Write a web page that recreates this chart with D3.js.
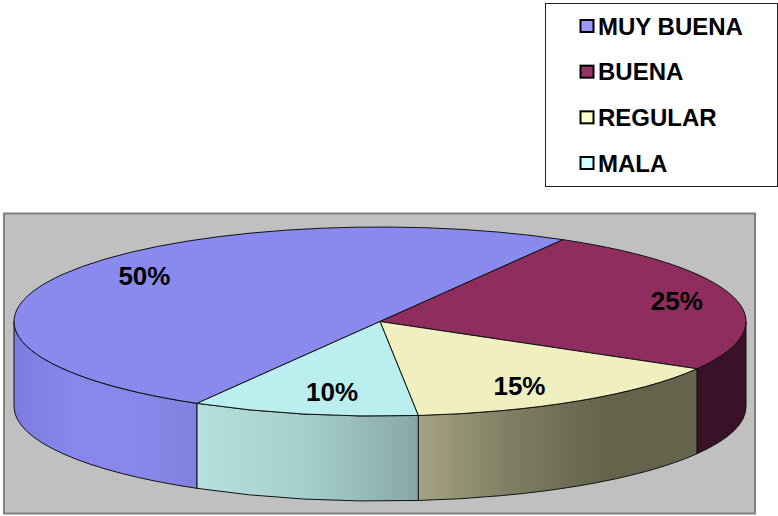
<!DOCTYPE html>
<html>
<head>
<meta charset="utf-8">
<script src="https://cdn.jsdelivr.net/npm/d3@7"></script>
<style>
  html, body { margin: 0; padding: 0; background: #fff; }
  svg { display: block; }
  text { font-family: "Liberation Sans", Arial, sans-serif; font-weight: bold; fill: #000; }
</style>
</head>
<body>
<svg id="viz" width="778" height="516"></svg>
<script>
var categories = ["MUY BUENA", "BUENA", "REGULAR", "MALA"];
var values = [50, 25, 15, 10];
var topColors = ["#8a8aee", "#8e2d5e", "#efefc0", "#bbeeee"];
var legendColors = ["#9999ff", "#993366", "#ffffcc", "#ccffff"];
// gradient stops of the wall of each slice, left to right
var wallStops = [
  ["#7c7ce0", "#8888ec", "#8888ec", "#8080de"],
  ["#3a1228", "#3a1228"],
  ["#a5a381", "#7e7e63", "#64644c", "#64644c"],
  ["#b5e0de", "#a4cfcd", "#88a6a6"]
];
// small shifts of the labels from their default spot
var labelNudge = [[18, -8], [14, -1], [-20, 1], [13, -3]];

var cx = 380, cy = 321.5, rx = 366, ry = 94.5, depth = 85;
var labelRadius = 0.8;

var svg = d3.select("#viz");

function px(a) { return cx + rx * Math.sin(a); }
function py(a) { return cy - ry * Math.cos(a); }
function rad(deg) { return deg * Math.PI / 180; }

function topPath(d) {
  return "M" + cx + "," + cy + "L" + px(d.startAngle) + "," + py(d.startAngle) +
    "A" + rx + "," + ry + " 0 " + (d.endAngle - d.startAngle > Math.PI ? 1 : 0) + " 1 " +
    px(d.endAngle) + "," + py(d.endAngle) + "Z";
}

// front wall only shows between 90 and 270 degrees
function wallPath(a0, a1) {
  return "M" + px(a0) + "," + py(a0) +
    "A" + rx + "," + ry + " 0 0 1 " + px(a1) + "," + py(a1) +
    "L" + px(a1) + "," + (py(a1) + depth) +
    "A" + rx + "," + ry + " 0 0 0 " + px(a0) + "," + (py(a0) + depth) + "Z";
}

var pie = d3.pie().sort(null).startAngle(rad(210)).endAngle(rad(570));
var arcs = pie(values);

// plot area
svg.append("rect")
  .attr("x", 4).attr("y", 213.5).attr("width", 751).attr("height", 300)
  .attr("fill", "#c0c0c0").attr("stroke", "#808080").attr("stroke-width", 2);

// gradients
var defs = svg.append("defs");
wallStops.forEach(function(stops, i) {
  var g = defs.append("linearGradient").attr("id", "wall" + i);
  stops.forEach(function(c, j) {
    g.append("stop").attr("offset", j / (stops.length - 1)).attr("stop-color", c);
  });
});

// walls
arcs.forEach(function(d, i) {
  // slices past the top of the circle wrap around to small angles
  var wrap = d.startAngle >= 2 * Math.PI ? 2 * Math.PI : 0;
  var lo = Math.max(d.startAngle - wrap, rad(90));
  var hi = Math.min(d.endAngle - wrap, rad(270));
  if (hi <= lo) return;
  svg.append("path")
    .attr("d", wallPath(lo, hi))
    .attr("fill", "url(#wall" + i + ")")
    .attr("stroke", "#111").attr("stroke-width", 1);
});

// top of the pie
svg.selectAll(".slice")
  .data(arcs)
  .enter().append("path")
  .attr("class", "slice")
  .attr("d", topPath)
  .attr("fill", function(d, i) { return topColors[i]; })
  .attr("stroke", "#111").attr("stroke-width", 1);

// percent labels
svg.selectAll(".pct")
  .data(arcs)
  .enter().append("text")
  .attr("class", "pct")
  .attr("x", function(d, i) { return cx + labelRadius * (px((d.startAngle + d.endAngle) / 2) - cx) + labelNudge[i][0]; })
  .attr("y", function(d, i) { return cy + labelRadius * (py((d.startAngle + d.endAngle) / 2) - cy) + labelNudge[i][1] + 9; })
  .attr("text-anchor", "middle")
  .attr("font-size", 26)
  .text(function(d) { return d.value + "%"; });

// legend
svg.append("rect")
  .attr("x", 545.5).attr("y", 3.5).attr("width", 232).attr("height", 183)
  .attr("fill", "#fff").attr("stroke", "#222").attr("stroke-width", 1);

var legendY = d3.scalePoint().domain(categories).range([26, 163]);
categories.forEach(function(c, i) {
  svg.append("rect")
    .attr("x", 580.5).attr("y", legendY(c) - 6).attr("width", 13).attr("height", 12)
    .attr("fill", legendColors[i]).attr("stroke", "#000").attr("stroke-width", 2);
  svg.append("text")
    .attr("x", 598).attr("y", legendY(c) + 8.5)
    .attr("font-size", 24)
    .text(c);
});
</script>
</body>
</html>
